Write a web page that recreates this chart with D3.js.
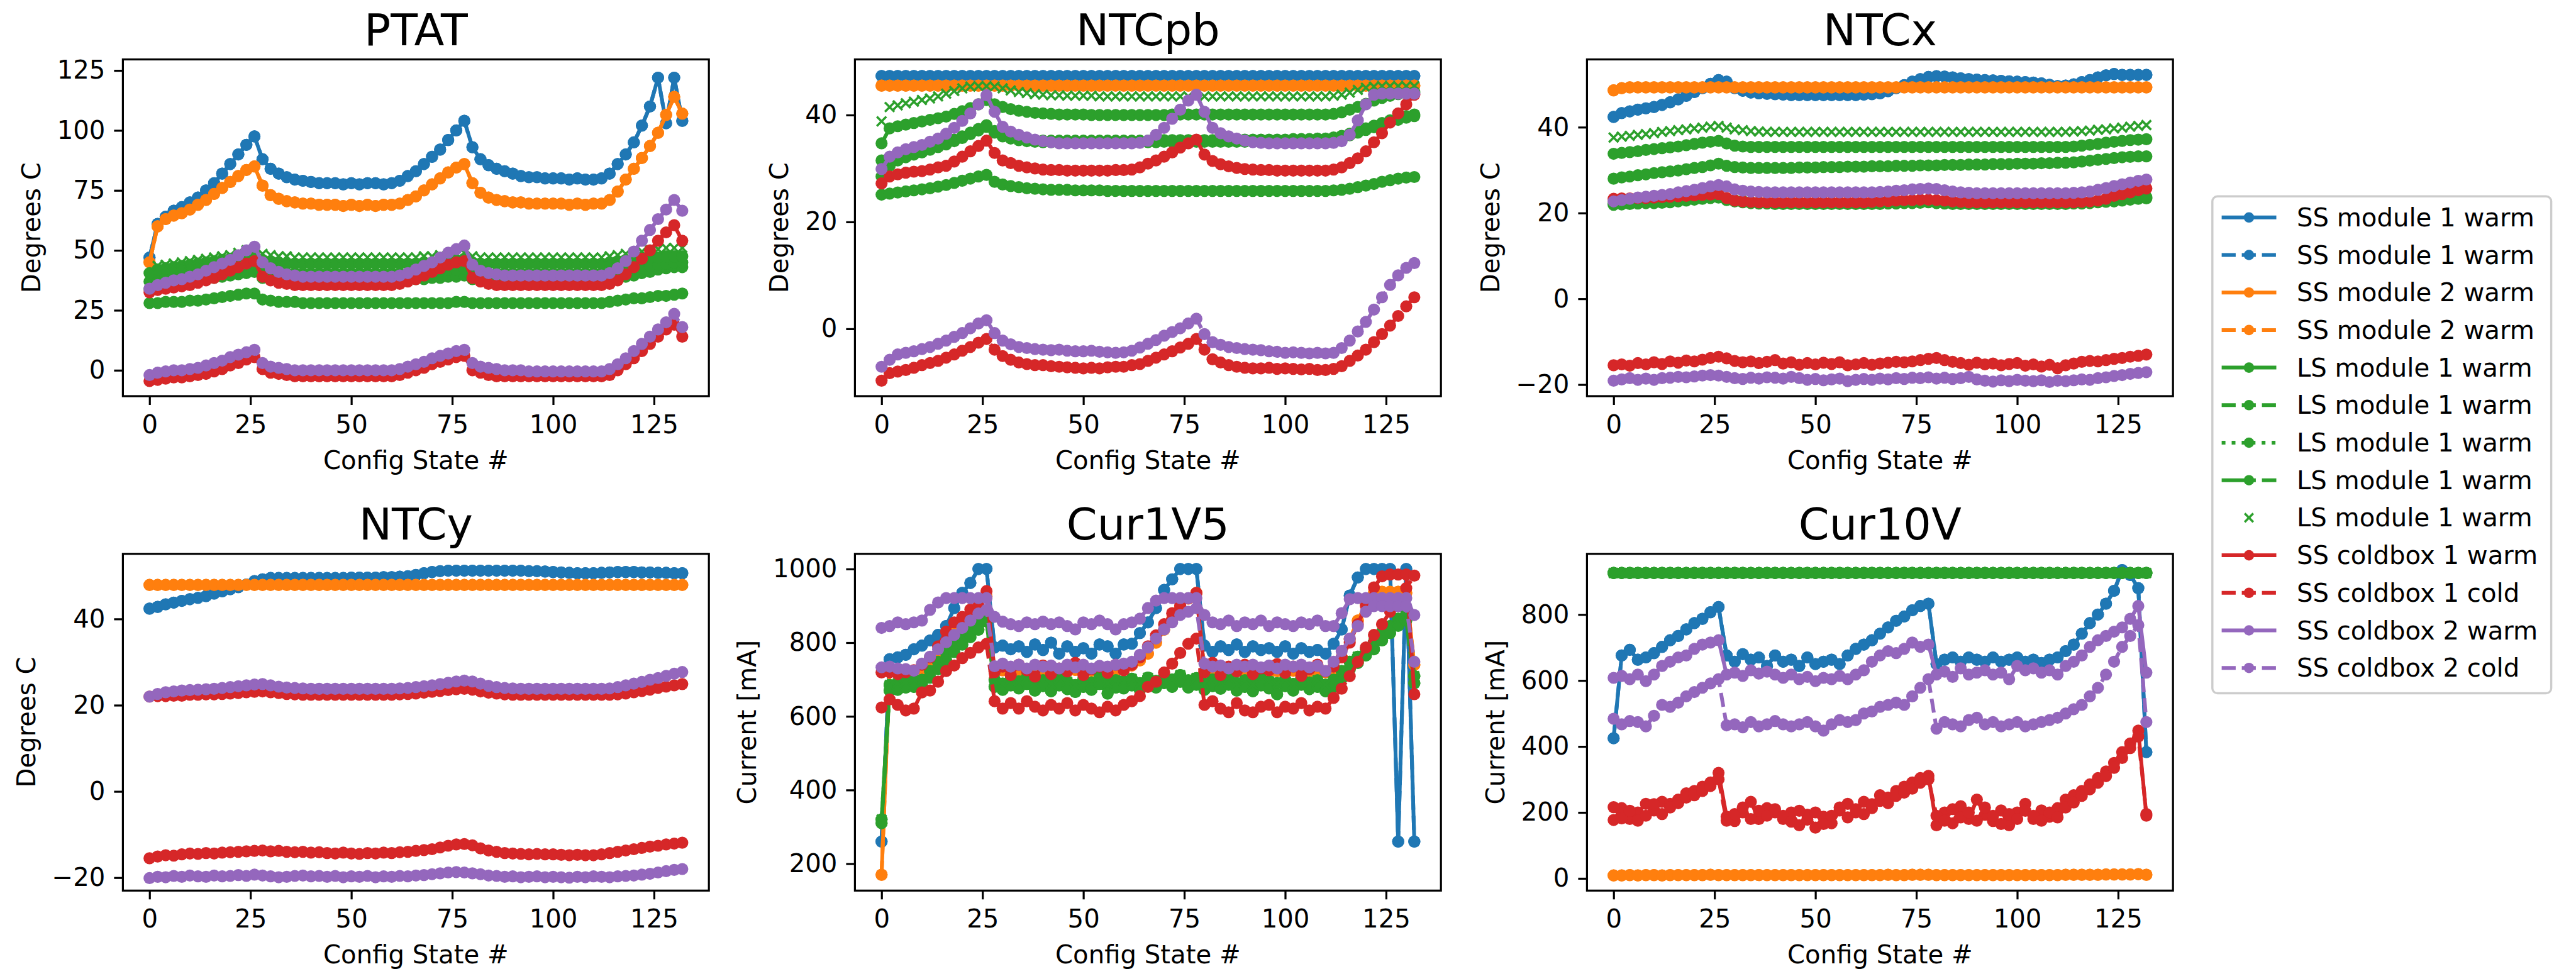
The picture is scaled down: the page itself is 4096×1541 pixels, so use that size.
<!DOCTYPE html>
<html><head><meta charset="utf-8">
<script src="https://cdn.jsdelivr.net/npm/d3@7"></script>
<style>
html,body{margin:0;padding:0;background:#fff;}
svg{display:block;}
text{font-family:"DejaVu Sans",sans-serif;fill:#000;}
</style></head><body>
<svg id="chart" width="4096" height="1541"></svg>
<script>
// ---------------- DATA ----------------
const configStates=[0,2,4,6,8,10,12,14,16,18,20,22,24,26,28,30,32,34,36,38,40,42,44,46,48,50,52,54,56,58,60,62,64,66,68,70,72,74,76,78,80,82,84,86,88,90,92,94,96,98,100,102,104,106,108,110,112,114,116,118,120,122,124,126,128,130,132];
const xTicks=[0,25,50,75,100,125];
const seriesNames=["SS module 1 warm","SS module 1 warm","SS module 2 warm","SS module 2 warm","LS module 1 warm","LS module 1 warm","LS module 1 warm","LS module 1 warm","LS module 1 warm","SS coldbox 1 warm","SS coldbox 1 cold","SS coldbox 2 warm","SS coldbox 2 cold"];
const panelTitles=["PTAT","NTCpb","NTCx","NTCy","Cur1V5","Cur10V"];
const panelYLabels=["Degrees C","Degrees C","Degrees C","Degrees C","Current [mA]","Current [mA]"];
const panelYTicks=[[0,25,50,75,100,125],[0,20,40],[-20,0,20,40],[-20,0,20,40],[200,400,600,800,1000],[0,200,400,600,800]];

// PTAT
const ptatSS1=[47,61,64,66.5,68,70,72,75,78,82,
86,90,94,97.5,88,84,82,80.5,79.5,79,
78.5,78,78,78,77.5,78,77.5,78,78,77.5,
78,79,81,83,86,89,92,96,100,104,
93,88,85.5,84,83,82,81,80.5,80.5,80,
80,80,79.5,80,79.5,79.5,80,82,86,90,
95,102,110,122,103,122,104];
const ptatSS2=[45,60,63,64.5,65.5,67,69,71,73.5,76,
78.5,81,83.5,85,77,73,71.5,70.5,70,69.5,
69.5,69,69,69,68.5,69,68.5,69,68.5,69,
69,69.5,71,72.5,75,77.5,80,82.5,84.5,86,
78,74,72,71,70.5,70,70,69.5,69.5,69.5,
69.5,69.5,69,69.5,69,69.5,69.5,71,74.5,79.5,
84,88.5,93.5,99,106.5,114,107];
const ptatLS1=[28,28,28.5,28.5,28.5,29,29,29.5,30,30.5,
31,31.5,32,32,29.5,29,28.5,28.5,28.5,28,
28,28,28,28,28,28,28,28,28,28,
28,28,28,28,28,28,28,28,28.5,28.5,
28,28,28,28,28,28,28,28,28,28,
28,28,28,28,28,28,28,28.5,29,29.5,
30,30,30.5,31,31,31.5,32];
const ptatLS2=[34,35,35.5,36,36.5,37,37.5,38,38.5,39,
39.5,40,40.5,41,38.5,38,37.5,37.5,37.5,37.5,
37.5,37.5,37.5,37.5,37.5,37.5,37.5,37.5,37.5,37.5,
37.5,37.5,37.5,38,38,38.5,38.5,39,39,39.5,
38,37.5,37.5,37.5,37.5,37.5,37.5,37.5,37.5,37.5,
37.5,37.5,37.5,37.5,37.5,37.5,37.5,38,38.5,39,
39.5,40.5,41,42,42.5,43,43];
const ptatLS3=[37,38.5,39,39.5,40,40.5,41,41.5,42,42.5,
43,43.5,44,44.5,42,41.5,41,40.5,40.5,40.5,
40.5,40.5,40.5,40.5,40.5,40.5,40.5,40.5,40.5,40.5,
40.5,40.5,40.5,41,41,41.5,41.5,42,42,42.5,
41,40.5,40.5,40.5,40.5,40.5,40.5,40.5,40.5,40.5,
40.5,40.5,40.5,40.5,40.5,40.5,40.5,41,41.5,42,
42.5,43,43.5,44,44.5,45,45];
const ptatLS4=[40.5,42,42.5,43,43.5,44,44.5,45,45.5,46,
46.5,47,47.5,48,46,45.5,45,44.5,44.5,44.5,
44.5,44.5,44.5,44.5,44.5,44.5,44.5,44.5,44.5,44.5,
44.5,44.5,44.5,44.5,45,45,45.5,46,46,46.5,
45,44.5,44.5,44.5,44.5,44.5,44.5,44.5,44.5,44.5,
44.5,44.5,44.5,44.5,44.5,44.5,44.5,45,45.5,46,
46.5,46.5,47,47,47.5,47.5,47.5];
const ptatLS5=[39,43.5,44,44.5,45,45.5,46,46.5,47,47.5,
48,49,50,50.5,48.5,48,47.5,47.5,47,47,
47,47,47,47,47,47,47,47,47,47,
47,47,47,47,47.5,47.5,48,48,48.5,49,
47.5,47,47,47,47,47,47,47,47,47,
47,47,47,47,47,47,47,47.5,48,48.5,
49,49.5,50,50.5,51,51,51];
const ptatCB1w=[32.5,33.5,34,34.5,35,35.5,36.5,37.5,38.5,40,
41.5,43,44.5,45.5,39,37.5,36.5,36,35.5,35.5,
35.5,35.5,35.5,35.5,35.5,35.5,35.5,35.5,35.5,35.5,
35.5,36,37,38,39.5,41,42.5,44,45,45.5,
38.5,37,36,35.5,35.5,35.5,35.5,35.5,35.5,35.5,
35.5,35.5,35.5,35.5,35.5,35.5,35.5,36,37.5,40,
43,46.5,50,54,57.5,60.5,54];
const ptatCB1c=[-4.5,-4,-3.5,-3,-3,-2.5,-2,-1.5,-0.5,0.5,
2,3,4.5,5.5,0.5,-1,-1.5,-2,-2.5,-2.5,
-2.5,-2.5,-2.5,-2.5,-2.5,-2.5,-2.5,-2.5,-2.5,-2.5,
-2.5,-2,-1,0,1,2.5,3.5,4.5,5.5,6,
0,-1,-2,-2.5,-2.5,-2.5,-2.5,-2.5,-2.5,-2.5,
-2.5,-2.5,-2.5,-2.5,-2.5,-2.5,-2.5,-2,0,2.5,
5,8,11,14,17,19,14];
const ptatCB2w=[34,35.5,36.5,37.5,38,39,40,41.5,43,44.5,
46,48,50,51.5,45,42.5,41,40,39.5,39,
39,39,39,39,39,39,39,39,39,39,
39,39.5,40.5,42,43.5,45,47,49,50.5,52,
44,41.5,40.5,40,39.5,39.5,39.5,39.5,39.5,39.5,
39.5,39.5,39.5,39.5,39.5,39.5,39.5,40.5,42.5,45.5,
49.5,54,58.5,63,67,71,66.5];
const ptatCB2c=[-2,-1,-0.5,0,0,0.5,1,2,3,4,
5.5,6.5,7.5,8.5,3,1.5,1,0.5,0,0,
0,0,0,0,0,0,0,0,0,0,
0,0.5,1.5,2.5,3.5,5,6,7,8,8.5,
3,1.5,1,0.5,0,0,0,-0.5,-0.5,-0.5,
-0.5,-0.5,-0.5,-0.5,-0.5,-0.5,-0.5,0.5,2.5,5,
8,11,14,17,20,23.5,18];

// NTCpb
const ntcpbSS1=[47.3,47.3,47.3,47.3,47.3,47.3,47.3,47.3,47.3,47.3,
47.3,47.3,47.3,47.3,47.3,47.3,47.3,47.3,47.3,47.3,
47.3,47.3,47.3,47.3,47.3,47.3,47.3,47.3,47.3,47.3,
47.3,47.3,47.3,47.3,47.3,47.3,47.3,47.3,47.3,47.3,
47.3,47.3,47.3,47.3,47.3,47.3,47.3,47.3,47.3,47.3,
47.3,47.3,47.3,47.3,47.3,47.3,47.3,47.3,47.3,47.3,
47.3,47.3,47.3,47.3,47.3,47.3,47.3];
const ntcpbSS2=[45.5,45.5,45.5,45.5,45.5,45.5,45.5,45.5,45.5,45.5,
45.5,45.5,45.5,45.5,45.5,45.5,45.5,45.5,45.5,45.5,
45.5,45.5,45.5,45.5,45.5,45.5,45.5,45.5,45.5,45.5,
45.5,45.5,45.5,45.5,45.5,45.5,45.5,45.5,45.5,45.5,
45.5,45.5,45.5,45.5,45.5,45.5,45.5,45.5,45.5,45.5,
45.5,45.5,45.5,45.5,45.5,45.5,45.5,45.5,45.5,45.5,
45.5,45.5,45.5,45.5,45.5,45.5,45.5];
const ntcpbLS1=[34.7,37.5,37.9,38.2,38.5,38.8,39.1,39.4,39.7,40.2,
40.7,41.3,42,42.8,42,41.5,41.1,40.8,40.6,40.4,
40.3,40.2,40.1,40.1,40.1,40.1,40,40,40,40,
40,40,40,40,40,40,40.1,40.1,40.1,40.1,
40.1,40.1,40.1,40.1,40.1,40.1,40.1,40.1,40.1,40.1,
40.1,40.1,40.1,40.1,40.1,40.1,40.2,40.5,41,41.5,
42.1,42.7,43.2,43.6,43.9,44.1,44.3];
const ntcpbLS2=[31.5,31.8,32.1,32.5,32.9,33.3,33.8,34.3,34.8,35.4,
36,36.7,37.4,38.1,37,36.3,35.9,35.6,35.4,35.3,
35.2,35.2,35.2,35.2,35.2,35.2,35.2,35.2,35.2,35.2,
35.2,35.2,35.2,35.2,35.2,35.3,35.3,35.3,35.3,35.3,
35.3,35.3,35.3,35.3,35.4,35.4,35.4,35.4,35.4,35.4,
35.4,35.5,35.5,35.5,35.6,35.6,35.8,36.1,36.5,37,
37.5,38,38.5,39,39.4,39.8,40.1];
const ntcpbLS3=[28.5,30.5,31.5,32.1,32.6,33,33.5,34,34.5,35.1,
35.7,36.4,37.1,37.8,36.7,36,35.6,35.3,35.1,35,
34.9,34.9,34.9,34.9,34.9,34.9,34.9,34.9,34.9,34.9,
34.9,34.9,34.9,34.9,34.9,35,35,35,35,35,
35,35,35,35,35,35,35,35,35,35,
35.1,35.1,35.1,35.2,35.2,35.3,35.5,35.8,36.2,36.7,
37.2,37.7,38.2,38.7,39.1,39.5,39.8];
const ntcpbLS4=[25.1,25.3,25.5,25.7,25.9,26.1,26.3,26.6,26.9,27.3,
27.7,28.1,28.5,28.8,27.5,27,26.7,26.5,26.3,26.2,
26.1,26,26,26,25.9,25.9,25.9,25.9,25.8,25.8,
25.8,25.8,25.8,25.8,25.8,25.8,25.8,25.8,25.8,25.8,
25.8,25.8,25.8,25.8,25.8,25.8,25.8,25.8,25.8,25.8,
25.8,25.8,25.8,25.8,25.8,25.8,25.9,26,26.2,26.5,
26.8,27.1,27.5,27.8,28.1,28.3,28.4];
const ntcpbLS5=[38.8,41.5,41.8,42.2,42.5,42.8,43.1,43.5,44,44.5,
45,45.3,45.4,45.4,45.3,45,44.6,44.3,44.1,43.9,
43.8,43.7,43.7,43.6,43.6,43.6,43.6,43.5,43.5,43.5,
43.5,43.5,43.5,43.5,43.5,43.5,43.5,43.5,43.5,43.5,
43.5,43.5,43.5,43.5,43.5,43.5,43.5,43.5,43.5,43.5,
43.5,43.5,43.5,43.5,43.5,43.5,43.6,43.8,44.2,44.7,
45.1,45.3,45.4,45.4,45.4,45.4,45.4];
const ntcpbCB1w=[27.2,28.5,28.9,29.2,29.4,29.5,29.8,30.2,30.5,31.3,
32.2,33.2,34.2,35.2,32.9,31.5,31,30.5,30.2,30,
29.8,29.7,29.7,29.6,29.6,29.6,29.6,29.6,29.6,29.7,
29.7,29.8,30.2,30.9,31.5,32.2,33,33.9,34.7,35.4,
32.6,31.4,30.8,30.4,30.1,29.9,29.8,29.7,29.7,29.6,
29.6,29.6,29.6,29.6,29.6,29.6,29.8,30.2,31,31.9,
33.2,34.9,36.6,38.6,40.3,42,43.8];
const ntcpbCB1c=[-9.7,-8.3,-8,-7.7,-7.3,-6.8,-6.4,-6,-5.4,-4.8,
-4.1,-3.4,-2.6,-1.9,-3.9,-5.1,-5.8,-6.3,-6.6,-6.8,
-6.8,-7,-7.1,-7.2,-7.3,-7.4,-7.3,-7.4,-7.2,-7.1,
-7.1,-6.8,-6.6,-6,-5.4,-4.8,-4.2,-3.5,-2.8,-1.9,
-3.9,-5.7,-6.3,-6.8,-7.1,-7.3,-7.4,-7.4,-7.3,-7.5,
-7.4,-7.5,-7.6,-7.5,-7.7,-7.7,-7.5,-7,-6,-5,
-3.9,-2.5,-1,0.6,2.4,4.2,5.9];
const ntcpbCB2w=[29.9,32.2,33,33.6,34,34.4,35,35.6,36.5,37.6,
38.9,40.3,42,43.7,40.6,37.8,36.9,36.3,35.8,35.4,
35.1,34.9,34.7,34.7,34.7,34.7,34.7,34.7,34.7,34.7,
34.7,34.7,34.8,35.2,36.3,37.6,39.3,41,42.7,43.8,
40.6,37.6,36.6,36,35.6,35.2,34.9,34.8,34.7,34.7,
34.7,34.7,34.7,34.7,34.7,34.7,34.8,35.1,36.3,39,
42,43.8,44,44,44,44,44];
const ntcpbCB2c=[-7.1,-5.8,-4.8,-4.5,-4.2,-3.8,-3.4,-2.8,-2.2,-1.5,
-0.8,0.1,1,1.6,-0.8,-2.2,-2.9,-3.4,-3.6,-3.8,
-3.9,-4,-3.9,-4.1,-4.2,-4.2,-4.1,-4.3,-4.4,-4.5,
-4.4,-4.1,-3.5,-2.8,-2.1,-1.3,-0.6,0.1,1,1.9,
-1,-2.5,-3,-3.4,-3.6,-3.8,-3.9,-4,-4.2,-4.3,
-4.5,-4.4,-4.5,-4.6,-4.5,-4.6,-4.5,-3.6,-2.2,-0.5,
1.3,3.6,5.9,8.2,10,11.4,12.3];

// NTCx
const ntcxSS1=[42.4,43.3,43.7,44.1,44.4,44.7,45.2,45.8,46.5,47.3,
48.2,49.1,50.1,51,50.6,49.1,48.5,48.1,47.9,47.8,
47.7,47.6,47.5,47.5,47.5,47.5,47.5,47.5,47.5,47.5,
47.5,47.6,47.7,47.9,48.4,49.1,49.8,50.6,51.2,51.7,
51.9,51.8,51.6,51.4,51.2,51.1,51,50.9,50.8,50.7,
50.6,50.5,50.4,50.2,49.9,49.6,49.7,50,50.5,51,
51.6,52.1,52.4,52.2,52.2,52.2,52.2];
const ntcxSS2=[48.6,49.1,49.3,49.3,49.3,49.3,49.3,49.3,49.3,49.3,
49.3,49.3,49.3,49.3,49.3,49.3,49.3,49.3,49.3,49.3,
49.3,49.3,49.3,49.3,49.3,49.3,49.3,49.3,49.3,49.3,
49.3,49.3,49.3,49.3,49.3,49.3,49.3,49.3,49.3,49.3,
49.3,49.3,49.3,49.3,49.3,49.3,49.3,49.3,49.3,49.3,
49.3,49.3,49.3,49.3,49.3,49.3,49.3,49.3,49.3,49.3,
49.3,49.3,49.3,49.3,49.3,49.3,49.3];
const ntcxLS1=[33.8,34,34.2,34.4,34.7,34.9,35.1,35.3,35.5,35.8,
36.1,36.4,36.6,36.8,36.2,35.7,35.5,35.4,35.4,35.4,
35.4,35.4,35.4,35.4,35.4,35.4,35.4,35.4,35.4,35.4,
35.4,35.4,35.4,35.4,35.4,35.4,35.4,35.4,35.4,35.4,
35.4,35.4,35.4,35.4,35.4,35.4,35.4,35.4,35.4,35.4,
35.4,35.4,35.4,35.4,35.4,35.4,35.4,35.5,35.7,35.9,
36.1,36.4,36.6,36.8,37,37.1,37.2];
const ntcxLS2=[28,28.3,28.5,28.8,29,29.3,29.5,29.7,29.9,30.2,
30.5,30.7,31.1,31.5,31,30.7,30.6,30.5,30.5,30.5,
30.5,30.5,30.5,30.6,30.6,30.6,30.7,30.7,30.7,30.8,
30.8,30.8,30.9,30.9,30.9,31,31,31,31.1,31.1,
31.1,31.2,31.2,31.2,31.3,31.3,31.3,31.4,31.4,31.4,
31.5,31.5,31.5,31.6,31.6,31.7,31.7,31.8,32,32.2,
32.4,32.6,32.8,33,33.1,33.2,33.2];
const ntcxLS3=[21.9,22,22.1,22.2,22.3,22.3,22.4,22.5,22.7,22.9,
23.1,23.3,23.5,23.6,23,22.7,22.5,22.3,22.2,22.2,
22.1,22.1,22.1,22.1,22.1,22.1,22.1,22.1,22.1,22.1,
22.1,22.1,22.1,22.1,22.2,22.2,22.3,22.3,22.4,22.5,
22.3,22.2,22.1,22.1,22.1,22.1,22.1,22.1,22.1,22.1,
22.1,22.1,22.1,22.1,22.1,22.1,22.1,22.2,22.2,22.3,
22.5,22.6,22.7,22.9,23.1,23.3,23.4];
const ntcxLS4=[22.2,22.3,22.4,22.5,22.5,22.6,22.7,22.8,23,23.2,
23.4,23.6,23.8,23.9,23.3,23,22.8,22.6,22.5,22.5,
22.4,22.4,22.4,22.4,22.4,22.4,22.4,22.4,22.4,22.4,
22.4,22.4,22.4,22.4,22.5,22.5,22.6,22.6,22.7,22.8,
22.6,22.5,22.4,22.4,22.4,22.4,22.4,22.4,22.4,22.4,
22.4,22.4,22.4,22.4,22.4,22.4,22.4,22.5,22.5,22.6,
22.8,22.9,23,23.2,23.4,23.6,23.7];
const ntcxLS5=[37.6,37.8,38,38.2,38.4,38.6,38.9,39.1,39.3,39.5,
39.7,39.9,40.1,40.3,39.9,39.5,39.3,39.1,39,38.9,
38.9,38.9,38.9,38.9,38.9,38.9,38.9,38.9,38.9,38.9,
38.9,38.9,38.9,38.9,38.9,38.9,38.9,38.9,38.9,38.9,
38.9,38.9,38.9,38.9,38.9,38.9,38.9,38.9,38.9,38.9,
38.9,38.9,38.9,38.9,38.9,38.9,38.9,39,39.1,39.2,
39.4,39.5,39.7,39.9,40.1,40.3,40.5];
const ntcxCB1w=[23.3,23.4,23.4,23.5,23.5,23.6,23.7,23.8,23.9,24,
24.1,24.2,24.3,24.4,23.5,22.9,22.7,22.6,22.5,22.5,
22.5,22.5,22.5,22.5,22.5,22.5,22.5,22.5,22.5,22.5,
22.5,22.5,22.6,22.7,22.8,22.9,23,23,23.1,23.1,
23,22.9,22.7,22.6,22.5,22.5,22.5,22.5,22.5,22.5,
22.5,22.5,22.5,22.5,22.5,22.5,22.5,22.5,22.6,22.7,
22.9,23.3,24,24.4,24.8,25.3,25.7];
const ntcxCB1c=[-15.5,-15.3,-15.6,-15,-15.3,-14.8,-15.2,-14.6,-14.9,-14.4,
-14.6,-14.2,-13.8,-13.5,-13.9,-14.5,-14.8,-14.6,-15,-14.7,
-14.3,-15.1,-14.8,-15.4,-15,-15.3,-14.9,-15.2,-14.8,-15.5,
-15.3,-15,-15.4,-15.1,-14.9,-14.7,-14.8,-14.6,-14.3,-14,
-13.8,-14.3,-14.7,-15,-15.4,-14.9,-15.3,-15.1,-15.5,-15.2,
-15,-15.6,-15.3,-15.8,-15.4,-16.2,-15.5,-15.1,-14.7,-14.5,
-14.6,-14.3,-14,-13.8,-13.5,-13.3,-13];
const ntcxCB2w=[22.7,23,23.3,23.6,23.8,24,24.2,24.4,24.8,25.1,
25.4,25.8,26.2,26.5,26.2,25.5,25.2,25,24.9,24.8,
24.8,24.8,24.8,24.8,24.8,24.8,24.8,24.8,24.8,24.8,
24.8,24.8,24.8,24.9,25,25.2,25.3,25.5,25.6,25.7,
25.6,25.3,25,24.8,24.7,24.6,24.6,24.6,24.6,24.6,
24.6,24.6,24.6,24.6,24.6,24.6,24.6,24.7,24.8,25,
25.4,25.8,26.3,26.7,27.1,27.5,27.8];
const ntcxCB2c=[-19.1,-18.8,-18.5,-18.9,-18.6,-18.9,-18.5,-18.4,-18.2,-18.3,
-18.1,-17.9,-17.8,-17.9,-18.2,-18.5,-18.7,-18.4,-18.6,-18.3,
-18.4,-18.6,-18.2,-18.5,-18.9,-18.7,-19,-18.8,-18.6,-19.2,
-18.9,-18.7,-18.9,-18.6,-18.8,-18.5,-18.7,-18.4,-18.5,-18.3,
-18.6,-18.4,-18.7,-18.5,-18.2,-18.8,-19.1,-19.3,-19,-19.2,
-18.9,-19.1,-19.2,-19,-19.4,-19.1,-19.2,-19,-18.8,-18.9,
-18.5,-18.3,-18,-17.8,-17.5,-17.3,-17.1];

// NTCy
const ntcySS1=[42.4,42.8,43.4,43.8,44.2,44.6,44.9,45.3,45.9,46.4,
46.9,47.4,48,48.8,49.2,49.5,49.5,49.5,49.5,49.5,
49.5,49.5,49.5,49.5,49.5,49.6,49.6,49.6,49.6,49.7,
49.7,49.8,49.9,50.2,50.6,50.9,51.1,51.2,51.2,51.2,
51.2,51.2,51.2,51.2,51.2,51.2,51.2,51.1,51.1,51,
50.9,50.8,50.7,50.6,50.6,50.6,50.7,50.8,50.9,50.9,
50.9,50.8,50.8,50.7,50.7,50.6,50.6];
const ntcySS2=[47.9,47.9,47.9,47.9,47.9,47.9,47.9,47.9,47.9,47.9,
47.9,47.9,47.9,47.9,47.9,47.9,47.9,47.9,47.9,47.9,
47.9,47.9,47.9,47.9,47.9,47.9,47.9,47.9,47.9,47.9,
47.9,47.9,47.9,47.9,47.9,47.9,47.9,47.9,47.9,47.9,
47.9,47.9,47.9,47.9,47.9,47.9,47.9,47.9,47.9,47.9,
47.9,47.9,47.9,47.9,47.9,47.9,47.9,47.9,47.9,47.9,
47.9,47.9,47.9,47.9,47.9,47.9,47.9];
const ntcyCB1w=[22,22.1,22.1,22.2,22.2,22.4,22.4,22.5,22.5,22.6,
22.7,22.8,23,23.1,23.2,23,22.8,22.6,22.5,22.4,
22.4,22.4,22.4,22.4,22.4,22.4,22.4,22.4,22.4,22.4,
22.4,22.5,22.6,22.7,22.9,23.1,23.3,23.5,23.7,23.8,
23.6,23.2,22.9,22.7,22.5,22.4,22.4,22.4,22.4,22.4,
22.4,22.4,22.4,22.4,22.4,22.4,22.4,22.4,22.5,22.7,
23,23.3,23.6,24,24.3,24.6,24.9];
const ntcyCB1c=[-15.5,-15.1,-14.8,-14.9,-14.6,-14.4,-14.5,-14.3,-14.4,-14.2,
-14.1,-14,-13.9,-13.8,-13.7,-13.9,-13.8,-14,-14.1,-14,
-14.2,-14.1,-14.3,-14.4,-14.2,-14.4,-14.5,-14.3,-14.4,-14.2,
-14.3,-14.1,-14,-13.8,-13.6,-13.4,-13,-12.6,-12.3,-12.2,
-12.5,-13.2,-13.7,-14,-14.3,-14.4,-14.5,-14.6,-14.5,-14.6,
-14.6,-14.7,-14.8,-14.7,-14.8,-14.8,-14.6,-14.3,-14,-13.7,
-13.4,-13.1,-12.8,-12.6,-12.3,-12.1,-11.9];
const ntcyCB2w=[22,22.6,23,23.2,23.4,23.5,23.6,23.7,23.8,24,
24.2,24.4,24.6,24.8,24.9,24.6,24.3,24.1,24,23.9,
23.8,23.8,23.8,23.8,23.8,23.8,23.8,23.8,23.8,23.8,
23.8,23.9,24,24.2,24.4,24.6,24.9,25.2,25.5,25.7,
25.5,25,24.5,24.2,24,23.9,23.8,23.8,23.8,23.8,
23.8,23.8,23.8,23.8,23.8,23.8,23.8,23.9,24.2,24.6,
25,25.4,25.9,26.3,26.8,27.3,27.7];
const ntcyCB2c=[-20.1,-19.8,-19.9,-19.6,-19.8,-19.5,-19.7,-19.8,-19.5,-19.7,
-19.6,-19.4,-19.6,-19.3,-19.5,-19.7,-19.9,-19.8,-19.6,-19.5,
-19.7,-19.6,-19.8,-19.6,-19.9,-19.7,-19.8,-19.6,-19.9,-19.7,
-19.8,-19.6,-19.7,-19.5,-19.4,-19.2,-19,-18.8,-18.7,-18.8,
-19,-19.2,-19.5,-19.6,-19.8,-19.7,-19.9,-19.8,-19.7,-19.9,
-19.8,-19.9,-20,-19.8,-19.9,-19.7,-19.8,-19.9,-19.7,-19.6,
-19.5,-19.3,-19.1,-18.8,-18.5,-18.2,-18];

// Cur1V5
const c1v5SS1=[260,755,760,767,782,792,806,821,845,894,
935,962,1000,1000,787,792,782,790,775,795,
780,800,770,790,775,785,770,795,790,770,
795,797,826,855,894,943,972,1000,1000,1000,
792,775,790,780,795,775,790,780,785,775,
790,770,785,775,780,770,797,836,928,977,
1000,1000,1000,1000,260,1000,260];
const c1v5SS2=[170,722,725,720,724,728,745,770,800,830,
855,875,895,925,722,725,718,724,720,726,
720,724,718,722,726,720,724,718,722,725,
728,738,752,770,800,835,865,895,920,935,
722,718,724,720,726,718,722,725,719,723,
720,724,718,722,725,720,728,760,810,860,
905,935,938,938,938,935,740];
const c1v5LS1=[320,685,690,695,700,699,723,748,772,797,
816,836,855,879,699,689,700,695,705,690,
698,688,702,694,685,700,692,706,690,698,
695,702,690,705,696,708,700,712,698,704,
689,700,694,705,690,698,686,702,695,690,
700,688,704,692,698,686,699,723,748,762,
782,801,826,845,865,879,709];
const c1v5LS2=[310,670,672,678,680,685,705,728,752,775,
795,815,835,858,680,672,684,676,688,670,
682,668,684,674,666,680,672,688,662,678,
676,684,672,686,678,690,680,694,678,686,
672,682,675,686,670,680,668,684,676,660,
682,670,686,674,680,668,680,702,728,745,
765,782,806,826,846,860,690];
const c1v5CB1w=[719,720,715,720,725,740,760,790,830,855,
870,890,900,940,720,735,712,740,725,708,
738,715,730,722,745,712,728,735,718,740,
725,740,760,790,820,850,880,900,920,935,
720,745,712,735,722,740,715,730,725,742,
718,735,710,728,740,722,735,760,800,850,
900,950,980,985,985,985,660];
const c1v5CB1c=[624,646,631,616,621,665,670,694,723,738,
758,772,787,797,641,621,636,621,641,626,
616,631,621,636,616,631,621,611,626,616,
631,641,655,680,694,719,743,772,797,811,
631,641,621,611,636,616,611,626,631,611,
626,621,636,616,626,621,650,675,709,748,
787,821,850,884,914,948,982];
const c1v5CB2w=[840,845,855,850,855,860,889,909,921,921,
921,921,921,921,870,857,850,845,855,850,
857,850,855,845,836,855,850,860,850,836,
850,855,865,894,914,921,921,921,921,921,
875,855,850,860,845,855,850,860,845,855,
850,845,855,850,860,845,845,880,918,921,
921,921,921,921,921,921,875];
const c1v5CB2c=[733,735,730,728,724,743,762,782,801,821,
840,860,879,889,736,743,735,740,730,740,
735,738,730,740,733,740,730,737,735,740,
743,748,767,787,811,836,855,875,884,894,
743,735,738,730,740,735,740,733,738,730,
740,735,740,733,737,723,748,777,811,845,
884,899,899,899,899,899,748];

// Cur10V
const c10vSS1=[425,676,693,663,670,683,702,722,735,755,
774,787,807,823,676,657,680,663,670,644,
676,657,663,644,670,650,657,663,650,676,
696,709,722,742,761,781,794,813,826,833,
650,663,670,657,670,663,657,670,657,663,
670,657,663,653,663,670,689,709,742,774,
800,833,872,935,920,880,383];
const c10vSS2=[9,9,10,9,10,10,9,10,10,10,
10,10,11,10,10,10,10,10,10,10,
10,10,10,10,10,10,10,10,10,10,
10,10,10,10,11,10,10,11,11,11,
10,10,10,10,10,10,10,10,10,10,
10,10,10,10,10,10,11,11,11,11,
11,12,12,12,12,13,11];
const c10vLS=[926,926,926,926,926,926,926,926,926,926,
926,926,926,926,926,926,926,926,926,926,
926,926,926,926,926,926,926,926,926,926,
926,926,926,926,926,926,926,926,926,926,
926,926,926,926,926,926,926,926,926,926,
926,926,926,926,926,926,926,926,926,926,
926,926,926,926,926,926,926];
const c10vCB1w=[177,213,180,200,226,206,232,226,239,258,
265,278,291,320,187,174,200,232,180,213,
200,180,200,161,193,154,187,167,206,226,
200,232,213,252,245,265,278,291,304,311,
161,200,167,219,180,239,193,174,206,161,
200,226,180,206,187,213,239,252,265,285,
304,324,350,383,409,448,190];
const c10vCB1c=[216,182,205,175,190,225,195,215,228,245,
252,265,280,300,175,195,215,180,205,190,
210,190,172,205,178,200,165,190,215,185,
210,195,225,235,228,250,260,272,290,300,
190,175,210,185,200,175,215,190,165,195,
180,205,190,175,200,185,215,230,250,270,
290,310,335,365,395,430,195];
const c10vCB2w=[608,614,604,618,598,618,644,657,670,676,
696,709,715,722,618,624,614,631,621,627,
618,608,618,604,611,598,608,604,614,604,
618,631,657,676,689,683,696,715,702,709,
618,627,611,637,618,624,631,618,624,604,
644,631,637,624,631,618,644,657,676,702,
722,735,748,761,787,826,624];
const c10vCB2c=[484,467,477,474,461,493,526,520,533,552,
565,578,591,604,464,467,458,474,461,467,
477,467,461,467,474,461,448,467,480,474,
480,500,506,520,526,533,526,552,578,604,
454,474,467,461,480,487,467,474,461,467,
474,461,467,474,480,487,500,513,526,552,
578,618,657,702,735,768,474];

// per-panel series lists (order matches seriesNames)
const panelSeries=[
  [ptatSS1,ptatSS1,ptatSS2,ptatSS2,ptatLS1,ptatLS2,ptatLS3,ptatLS4,ptatLS5,ptatCB1w,ptatCB1c,ptatCB2w,ptatCB2c],
  [ntcpbSS1,ntcpbSS1,ntcpbSS2,ntcpbSS2,ntcpbLS1,ntcpbLS2,ntcpbLS3,ntcpbLS4,ntcpbLS5,ntcpbCB1w,ntcpbCB1c,ntcpbCB2w,ntcpbCB2c],
  [ntcxSS1,ntcxSS1,ntcxSS2,ntcxSS2,ntcxLS1,ntcxLS2,ntcxLS3,ntcxLS4,ntcxLS5,ntcxCB1w,ntcxCB1c,ntcxCB2w,ntcxCB2c],
  [ntcySS1,ntcySS1,ntcySS2,ntcySS2,null,null,null,null,null,ntcyCB1w,ntcyCB1c,ntcyCB2w,ntcyCB2c],
  [c1v5SS1,c1v5SS1,c1v5SS2,c1v5SS2,c1v5LS1,c1v5LS2,c1v5LS1,c1v5LS2,c1v5LS1,c1v5CB1w,c1v5CB1c,c1v5CB2w,c1v5CB2c],
  [c10vSS1,c10vSS1,c10vSS2,c10vSS2,c10vLS,c10vLS,c10vLS,c10vLS,c10vLS,c10vCB1w,c10vCB1c,c10vCB2w,c10vCB2c]
];

// ---------------- STYLE / LAYOUT ----------------
const W=4096,H=1541;
const yDomains=[[-10.8,129.6],[-12.6,50.4],[-22.7,55.8],[-23.0,55.1],[127,1041],[-37,984]];
const xDomain=[-6.6,138.6];
const AX={left0:195.4,dx:1164,w:931.8,h:535.5,tops:[94.5,880.8]};
const FS=40.2, TITLE_FS=70;
const LW=6.0, MR=9.6, XR=7.5, LMR=8.3;
const C={blue:"#1f77b4",orange:"#ff7f0e",green:"#2ca02c",red:"#d62728",purple:"#9467bd"};
const sColor=[C.blue,C.blue,C.orange,C.orange,C.green,C.green,C.green,C.green,C.green,C.red,C.red,C.purple,C.purple];
const DASH="22.3,9.7", DOT="6,9.9", DASHDOT="38.6,9.7,6,9.7";
const sDash=[null,DASH,null,DASH,null,DASH,DOT,DASHDOT,null,null,DASH,null,DASH];
const sMarker=["o","o","o","o","o","o","o","o","x","o","o","o","o"];
const sLine=[1,1,1,1,1,1,1,1,0,1,1,1,1];

const svg=d3.select("#chart");
svg.append("rect").attr("width",W).attr("height",H).attr("fill","#fff");
const defs=svg.append("defs");
const fmt=d=>d<0?"\u2212"+Math.abs(d):String(d);

function drawMarker(sel,type,color,cx,cy,r,xr){
  if(type==="o"){
    sel.append("circle").attr("cx",cx).attr("cy",cy).attr("r",r).attr("fill",color);
  } else {
    sel.append("path").attr("d",`M${cx-xr},${cy-xr}L${cx+xr},${cy+xr}M${cx-xr},${cy+xr}L${cx+xr},${cy-xr}`)
      .attr("stroke",color).attr("stroke-width",3.6).attr("fill","none");
  }
}

panelTitles.forEach((title,pi)=>{
  const col=pi%3,row=Math.floor(pi/3);
  const g=svg.append("g").attr("transform",`translate(${AX.left0+col*AX.dx},${AX.tops[row]})`);
  const x=d3.scaleLinear().domain(xDomain).range([0,AX.w]);
  const y=d3.scaleLinear().domain(yDomains[pi]).range([AX.h,0]);
  defs.append("clipPath").attr("id","clip"+pi).append("rect").attr("width",AX.w).attr("height",AX.h);
  const plot=g.append("g").attr("clip-path",`url(#clip${pi})`);
  const line=d3.line().x(d=>x(d[0])).y(d=>y(d[1]));
  panelSeries[pi].forEach((vals,si)=>{
    if(!vals) return;
    const pts=configStates.map((c,i)=>[c,vals[i]]);
    const sg=plot.append("g");
    if(sLine[si]){
      const p=sg.append("path").attr("d",line(pts)).attr("fill","none").attr("stroke",sColor[si])
        .attr("stroke-width",LW).attr("stroke-linejoin","round");
      if(sDash[si]) p.attr("stroke-dasharray",sDash[si]); else p.attr("stroke-linecap","square");
    }
    pts.forEach(d=>drawMarker(sg,sMarker[si],sColor[si],x(d[0]),y(d[1]),MR,XR));
  });
  // axes
  const xa=g.append("g").attr("transform",`translate(0,${AX.h})`)
    .call(d3.axisBottom(x).tickValues(xTicks).tickSize(14).tickPadding(16.5).tickFormat(fmt));
  const ya=g.append("g")
    .call(d3.axisLeft(y).tickValues(panelYTicks[pi]).tickSize(14).tickPadding(14).tickFormat(fmt));
  [xa,ya].forEach(a=>{
    a.select(".domain").remove();
    a.selectAll(".tick line").attr("stroke","#000").attr("stroke-width",3.2);
    a.selectAll(".tick text").attr("font-size",FS).attr("font-family","DejaVu Sans").attr("fill","#000");
  });
  g.append("rect").attr("width",AX.w).attr("height",AX.h).attr("fill","none").attr("stroke","#000").attr("stroke-width",3.2);
  // title
  g.append("text").attr("x",AX.w/2).attr("y",-23).attr("text-anchor","middle").attr("font-size",TITLE_FS).text(title);
  // x label
  g.append("text").attr("x",AX.w/2).attr("y",AX.h+116).attr("text-anchor","middle").attr("font-size",FS).text("Config State #");
  // y label
  let minX=0;
  ya.selectAll(".tick text").each(function(){const b=this.getBBox();const tx=-28-b.width;if(tx<minX)minX=tx;});
  const lx=minX-41;
  g.append("text").attr("transform",`translate(${lx},${AX.h/2}) rotate(-90)`).attr("dy","0.35em")
    .attr("text-anchor","middle").attr("font-size",FS).text(panelYLabels[pi]);
});

// legend
const LG={x:3517.8,y:312.3,w:538.8,h:790.2,row0:345.8,dy:59.7,l0:3532.6,l1:3619.5,mx:3576,tx:3651.9};
const lg=svg.append("g");
lg.append("rect").attr("x",LG.x).attr("y",LG.y).attr("width",LG.w).attr("height",LG.h).attr("rx",8).attr("ry",8)
  .attr("fill","#fff").attr("fill-opacity",0.8).attr("stroke","#cccccc").attr("stroke-width",3.4);
seriesNames.forEach((name,si)=>{
  const cy=LG.row0+si*LG.dy;
  if(sLine[si]){
    const p=lg.append("line").attr("x1",LG.l0).attr("x2",LG.l1).attr("y1",cy).attr("y2",cy)
      .attr("stroke",sColor[si]).attr("stroke-width",LW);
    if(sDash[si]) p.attr("stroke-dasharray",sDash[si]);
  }
  drawMarker(lg,sMarker[si],sColor[si],LG.mx,cy,LMR,6.8);
  lg.append("text").attr("x",LG.tx).attr("y",cy).attr("dy","0.35em").attr("font-size",FS).text(name);
});
</script>
</body></html>
